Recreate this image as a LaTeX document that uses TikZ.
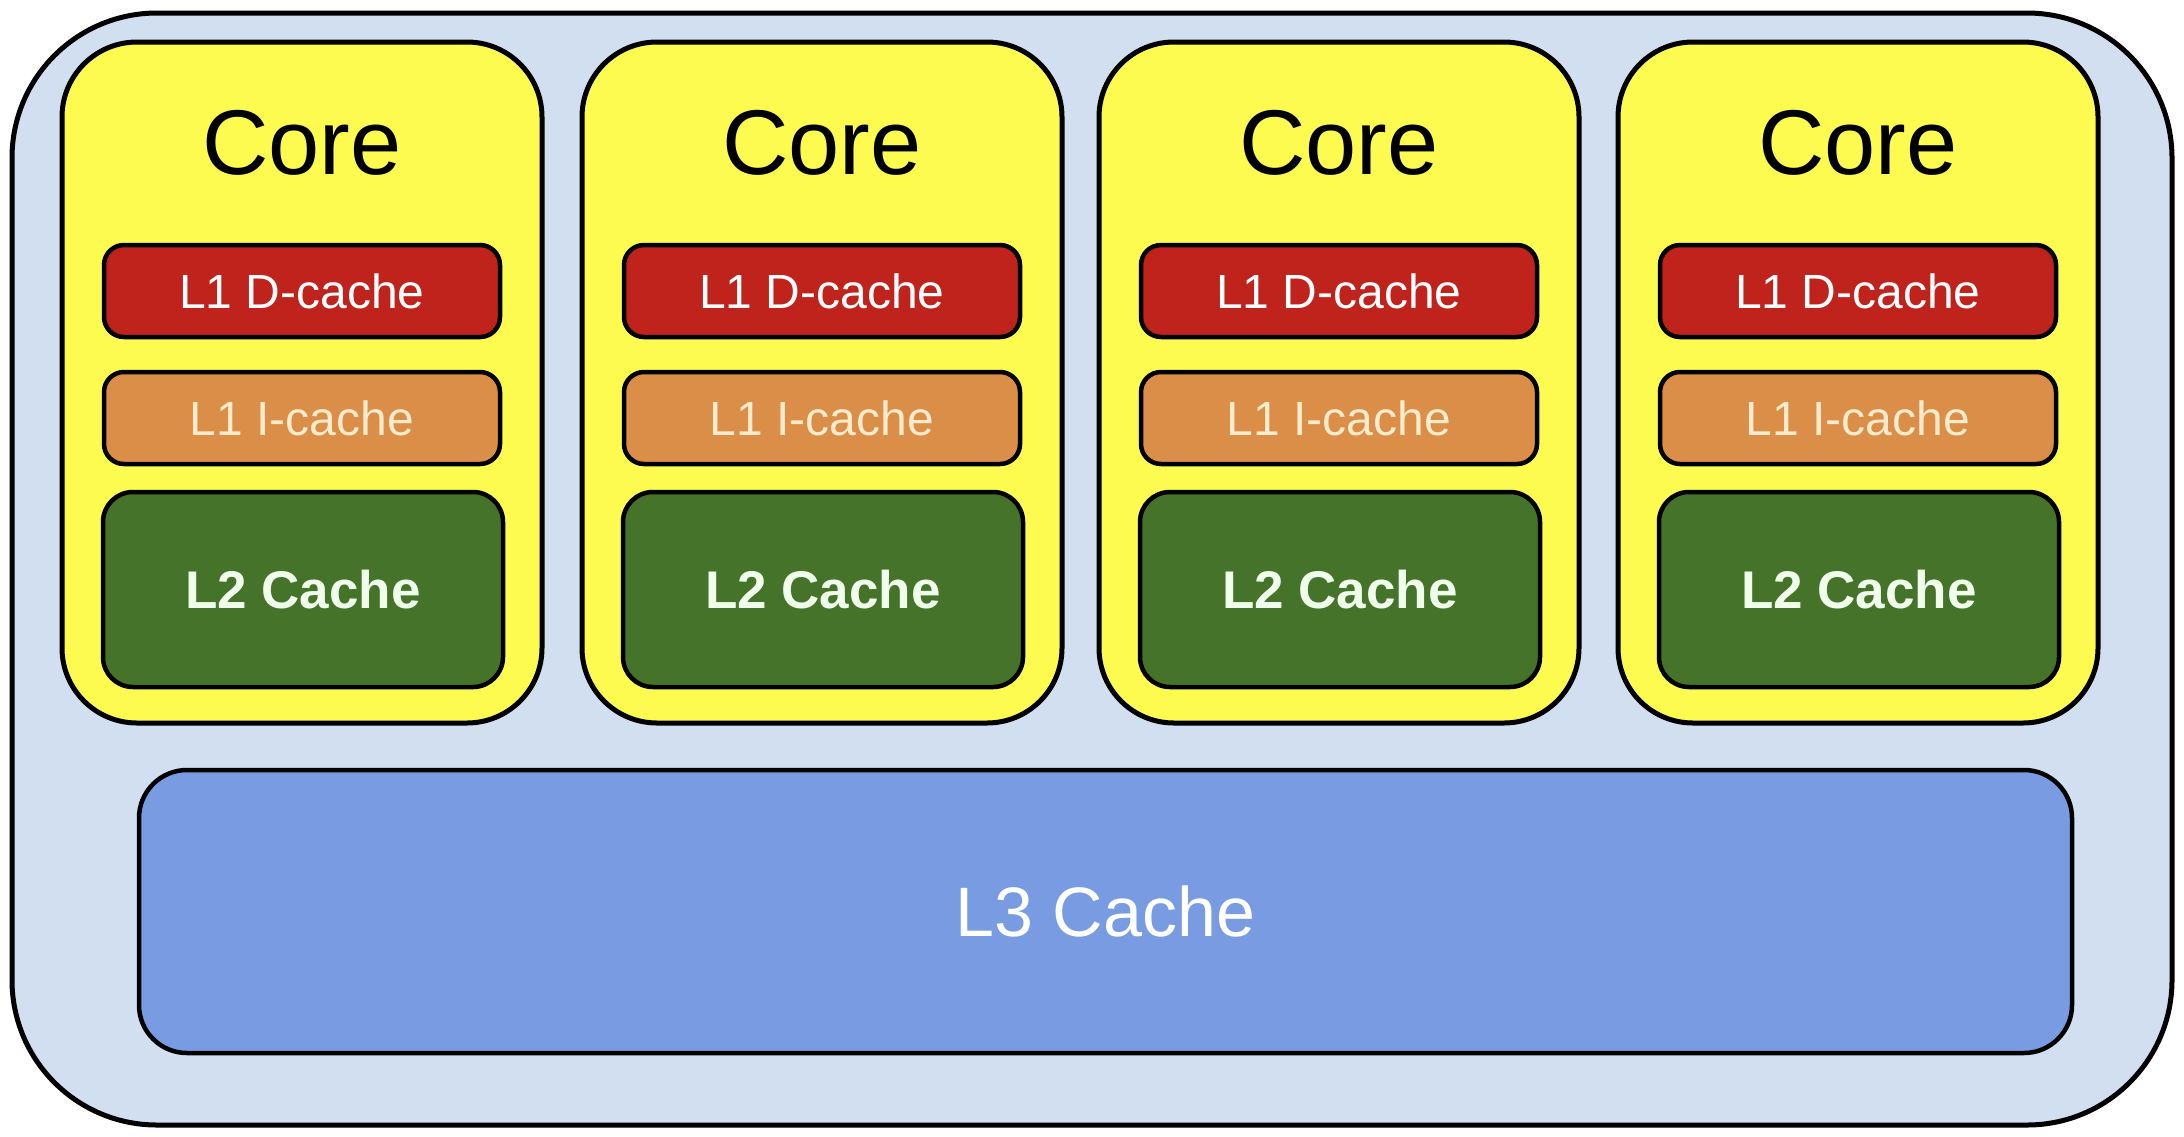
\documentclass[tikz,border=0pt]{standalone}
\usepackage{fontspec}
\setmainfont{Liberation Sans}
\definecolor{chipfill}{RGB}{210,223,240}
\definecolor{corefill}{RGB}{253,251,80}
\definecolor{ldfill}{RGB}{192,34,28}
\definecolor{lifill}{RGB}{218,142,72}
\definecolor{ltwofill}{RGB}{70,115,42}
\definecolor{lthreefill}{RGB}{120,155,225}
\definecolor{creamtext}{RGB}{250,235,205}
\definecolor{greentext}{RGB}{240,255,235}
\tikzset{
  chipbox/.style={draw=black, line width=5pt, fill=chipfill, rounded corners=145pt, inner sep=0pt},
  corebox/.style={draw=black, line width=5pt, fill=corefill, rounded corners=75pt, inner sep=0pt,
    minimum width=480pt, minimum height=681pt},
  ldbox/.style={draw=black, line width=4.5pt, fill=ldfill, rounded corners=20pt, inner sep=0pt,
    minimum width=396pt, minimum height=92pt, text=white, font=\fontsize{48}{48}\selectfont},
  libox/.style={draw=black, line width=4.5pt, fill=lifill, rounded corners=20pt, inner sep=0pt,
    minimum width=396pt, minimum height=92pt, text=creamtext, font=\fontsize{48}{48}\selectfont},
  ltwobox/.style={draw=black, line width=4.5pt, fill=ltwofill, rounded corners=30pt, inner sep=0pt,
    minimum width=400pt, minimum height=195pt, text=greentext, font=\bfseries\fontsize{53}{53}\selectfont},
  lthreebox/.style={draw=black, line width=4.5pt, fill=lthreefill, rounded corners=48pt, inner sep=0pt,
    minimum width=1933pt, minimum height=283pt, text=white, font=\fontsize{70}{70}\selectfont},
  corelabel/.style={inner sep=0pt, text=black, font=\fontsize{92}{92}\selectfont}
}
\begin{document}
\begin{tikzpicture}[x=1pt,y=-1pt]
\useasboundingbox[fill=white] (0,0) rectangle (2184,1136);
\node[chipbox, minimum width=2160pt, minimum height=1112pt] (chip) at (1092,569) {};
\foreach \i/\cx in {1/302,2/822,3/1339,4/1858}{
  \node[corebox] (core\i) at (\cx,382.5) {};
  \node[corelabel] (corelab\i) at (\cx,143) {Core};
  \node[ldbox] (ld\i) at (\cx,291) {L1 D-cache};
  \node[libox] (li\i) at (\cx,418) {L1 I-cache};
  \node[ltwobox] (ltwo\i) at (\cx+1,589.5) {L2 Cache};
}
\node[lthreebox] (lthree) at (1105.5,911.5) {L3 Cache};
\end{tikzpicture}
\end{document}
